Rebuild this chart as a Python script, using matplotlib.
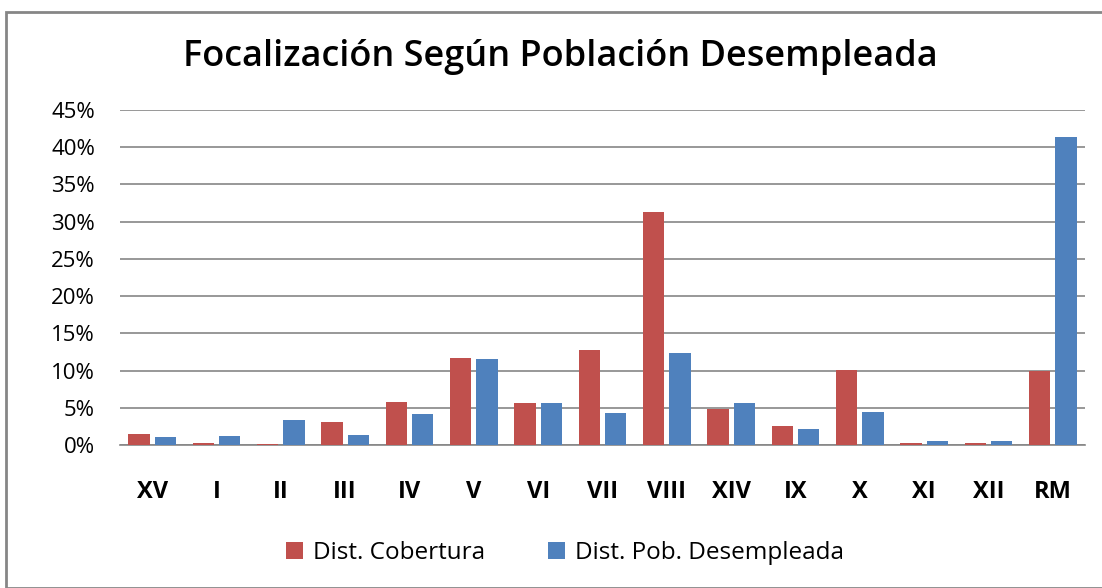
import numpy as np
import matplotlib
matplotlib.use('Agg')
import matplotlib.pyplot as plt
from matplotlib.patches import Rectangle
from matplotlib.ticker import FuncFormatter

regiones = ['XV', 'I', 'II', 'III', 'IV', 'V', 'VI', 'VII', 'VIII', 'XIV', 'IX', 'X', 'XI', 'XII', 'RM']
dist_cobertura = [1.5, 0.3, 0.2, 3.1, 5.8, 11.7, 5.7, 12.8, 31.3, 4.9, 2.5, 10.1, 0.3, 0.3, 10.0]
dist_desempleada = [1.1, 1.25, 3.3, 1.4, 4.2, 11.6, 5.7, 4.3, 12.3, 5.7, 2.2, 4.5, 0.6, 0.6, 41.4]

red = '#C0504D'
blue = '#4F81BD'
grid_gray = '#868686'
font = 'Open Sans'

W, H = 1102, 588
fig = plt.figure(figsize=(W / 100, H / 100), dpi=100)

# frame around the chart area (only top/left visible in the crop)
fig.patches.append(Rectangle((6 / W, 0), 2.0, 1 - 12 / H, transform=fig.transFigure,
                             fill=False, edgecolor=grid_gray, linewidth=2))

ax = fig.add_axes([120 / W, 1 - 445 / H, 965 / W, 335 / H])
x = np.arange(len(regiones))
w = 0.33
ax.bar(x - 0.205, np.array(dist_cobertura) / 100, w, color=red, label='Dist. Cobertura', zorder=3)
ax.bar(x + 0.205, np.array(dist_desempleada) / 100, w, color=blue, label='Dist. Pob. Desempleada', zorder=3)

ax.set_xlim(-0.5, len(regiones) - 0.5)
ax.set_ylim(0, 0.45)
ax.set_yticks(np.arange(0, 0.451, 0.05))
ax.yaxis.set_major_formatter(FuncFormatter(lambda v, p: f'{v * 100:.0f}%'))
ax.set_xticks(x)
ax.set_xticklabels(regiones, fontsize=17, fontweight='bold', family=font)
for t in ax.get_yticklabels():
    t.set_family(font)
    t.set_fontsize(16)
ax.tick_params(axis='both', length=0)
ax.tick_params(axis='y', pad=18)
ax.tick_params(axis='x', pad=25)
ax.grid(axis='y', color=grid_gray, linewidth=1.2, zorder=0)
for s in ['top', 'right', 'left']:
    ax.spines[s].set_visible(False)
ax.spines['bottom'].set_color(grid_gray)
ax.spines['bottom'].set_linewidth(1.2)

fig.text(560 / W, 1 - 57 / H, 'Focalización Según Población Desempleada', ha='center', va='center',
         fontsize=26, fontweight='semibold', family=font)

fig.legend(loc='center', bbox_to_anchor=(565 / W, 1 - 553 / H), ncol=2, frameon=False,
           prop={'family': font, 'size': 17.5}, handlelength=0.7, handleheight=0.7,
           handletextpad=0.4, columnspacing=2.6)

fig.savefig('out.png', dpi=100)
